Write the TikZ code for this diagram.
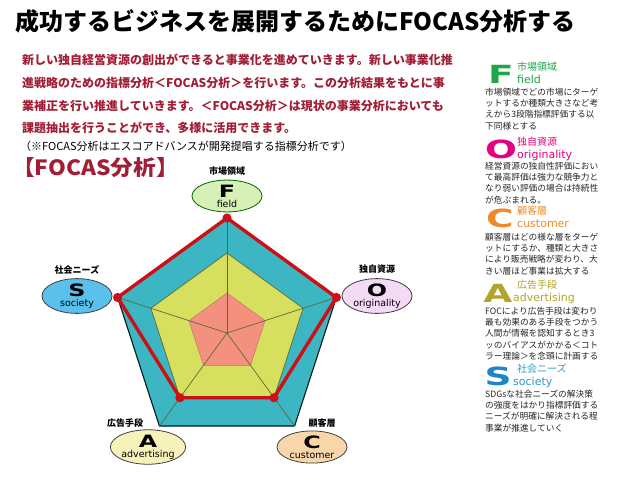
\documentclass[tikz,border=0pt]{standalone}
\usepackage{fontspec}
\usepackage{graphicx}
\setmainfont{DejaVu Sans}
\newfontfamily\jp{Noto Sans CJK JP}
\newfontfamily\dv{DejaVu Sans}
\usetikzlibrary{calc,shapes.geometric}
\definecolor{parared}{HTML}{A21E36}
\definecolor{tealc}{HTML}{3CB6C2}
\definecolor{yelc}{HTML}{D6DF5E}
\definecolor{salc}{HTML}{F4907E}
\definecolor{redl}{HTML}{CC1016}
\definecolor{spokec}{HTML}{5B6A3A}
\definecolor{fgreen}{HTML}{1FA64A}
\definecolor{omag}{HTML}{E5007E}
\definecolor{corange}{HTML}{F08A2A}
\definecolor{aolive}{HTML}{B3A52C}
\definecolor{sblue}{HTML}{1C86C6}
\definecolor{stext}{HTML}{2C9AC8}
\definecolor{ellF}{RGB}{214,240,182}
\definecolor{ellO}{RGB}{244,218,244}
\definecolor{ellS}{RGB}{92,192,236}
\definecolor{ellA}{RGB}{247,242,186}
\definecolor{ellC}{RGB}{248,214,170}
\begin{document}
\begin{tikzpicture}[x=1pt,y=-1pt,
  para/.style={anchor=west,inner sep=0pt,text=parared,font=\jp\bfseries\fontsize{12}{12}\selectfont},
  desc/.style={anchor=north west,inner sep=0pt,align=left,text=black!85,font=\jp\fontsize{8.7}{11.2}\selectfont},
  bigl/.style={inner sep=0pt,font=\dv\bfseries\fontsize{25}{25}\selectfont},
  jlab/.style={anchor=west,inner sep=0pt,text height=7.5pt,text depth=1pt,font=\jp\fontsize{10}{10}\selectfont},
  elab/.style={anchor=west,inner sep=0pt,text height=7.5pt,text depth=1.5pt,font=\dv\fontsize{11}{11}\selectfont},
  clab/.style={inner sep=0pt,font=\jp\bfseries\fontsize{9}{9}\selectfont},
  axis/.style={ellipse,draw=black!75,line width=0.8pt,minimum width=70pt,minimum height=31pt,inner sep=0pt,align=center},
  redline/.style={draw=redl,line width=3.4pt,line join=round},
  dot/.style={fill=redl},
  spoke/.style={draw=spokec,line width=0.7pt}
]
\useasboundingbox (0,0) rectangle (624,482);
\fill[white] (0,0) rectangle (624,482);

% title
\node[anchor=west,inner sep=0pt,font=\jp\bfseries\fontsize{24}{24}\selectfont] (title) at (15,21) {成功するビジネスを展開するためにFOCAS分析する};

% paragraph
\node[para] (l1) at (22,60) {新しい独自経営資源の創出ができると事業化を進めていきます。新しい事業化推};
\node[para] (l2) at (22,83) {進戦略のための指標分析＜FOCAS分析＞を行います。この分析結果をもとに事};
\node[para] (l3) at (22,106) {業補正を行い推進していきます。＜FOCAS分析＞は現状の事業分析においても};
\node[para] (l4) at (22,128) {課題抽出を行うことができ、多様に活用できます。};
\node[anchor=west,inner sep=0pt,font=\jp\fontsize{11}{11}\selectfont] (note) at (20,146) {（※FOCAS分析はエスコアドバンスが開発提唱する指標分析です）};
\node[anchor=west,inner sep=0pt,text=parared,font=\jp\bfseries\fontsize{21}{21}\selectfont] (head) at (12,168) {\scalebox{1.08}[1]{【FOCAS分析】}};

% chart
\begin{scope}[shift={(227,333)}]
  \coordinate (ctr) at (0,0);
  \foreach \i/\a in {1/-90,2/-18,3/54,4/126,5/198}{
    \coordinate (p\i) at (\a:115);
    \coordinate (m\i) at (\a:80);
    \coordinate (q\i) at (\a:40);
  }
\end{scope}
\filldraw[fill=tealc,draw=black!80!teal,line width=1.1pt,line join=round] (p1)--(p2)--(p3)--(p4)--(p5)--cycle;
\filldraw[fill=yelc,draw=spokec,line width=0.7pt] (m1)--(m2)--(m3)--(m4)--(m5)--cycle;
\filldraw[fill=salc,draw=salc!80!black,line width=0.5pt] (q1)--(q2)--(q3)--(q4)--(q5)--cycle;
\foreach \i in {1,...,5}{\draw[spoke] (ctr)--(p\i);}
\draw[redline] (p1)--(p2)--(m3)--(m4)--(p5)--cycle;
\foreach \v in {p1,p2,m3,m4,p5}{\fill[dot] (\v) circle (4.6pt);}

% axis labels
\node[axis,fill=ellF,draw=green!40!black] (F) at (227,196)
  {\dv\bfseries\fontsize{17}{13}\selectfont\scalebox{1.4}[1]{F}\\[-2pt]\dv\fontsize{9.5}{9.5}\selectfont field};
\node[clab] (Ft) at (227,171) {市場領域};
\node[axis,fill=ellO] (O) at (377,296)
  {\dv\bfseries\fontsize{17}{13}\selectfont\scalebox{1.4}[1]{O}\\[-2pt]\dv\fontsize{9.5}{9.5}\selectfont originality};
\node[clab] (Ot) at (377,269) {独自資源};
\node[axis,fill=ellS] (S) at (77,296)
  {\dv\bfseries\fontsize{17}{13}\selectfont\scalebox{1.4}[1]{S}\\[-2pt]\dv\fontsize{9.5}{9.5}\selectfont society};
\node[clab] (St) at (77,270) {社会ニーズ};
\node[axis,fill=ellA] (A) at (148,447)
  {\dv\bfseries\fontsize{17}{13}\selectfont\scalebox{1.4}[1]{A}\\[-2pt]\dv\fontsize{9.5}{9.5}\selectfont advertising};
\node[clab] (At) at (125,423) {広告手段};
\node[axis,fill=ellC] (C) at (312,447)
  {\dv\bfseries\fontsize{17}{13}\selectfont\scalebox{1.4}[1]{C}\\[-2pt]\dv\fontsize{9.5}{9.5}\selectfont customer};
\node[clab] (Ct) at (322,423) {顧客層};

% right column
\node[bigl,text=fgreen] (rF) at (501,74) {\scalebox{1.5}[1]{F}};
\node[jlab,text=fgreen] (rFj) at (517,67) {市場領域};
\node[elab,text=fgreen] (rFe) at (517,80) {field};
\node[desc] (dF) at (485,88) {市場領域でどの市場にターゲ\\ットするか種類大きさなど考\\えから3段階指標評価する以\\下同様とする};

\node[bigl,text=omag] (rO) at (501,149) {\scalebox{1.5}[1]{O}};
\node[jlab,text=omag] (rOj) at (517,142) {独自資源};
\node[elab,text=omag] (rOe) at (517,155) {originality};
\node[desc] (dO) at (485,162) {経営資源の独自性評価におい\\て最高評価は強力な競争力と\\なり弱い評価の場合は持続性\\が危ぶまれる。};

\node[bigl,text=corange] (rC) at (500,218) {\scalebox{1.5}[1]{C}};
\node[jlab,text=corange] (rCj) at (517,211) {顧客層};
\node[elab,text=corange] (rCe) at (517,224) {customer};
\node[desc] (dC) at (485,233) {顧客層はどの様な層をターゲ\\ットにするか、種類と大きさ\\により販売戦略が変わり、大\\きい層ほど事業は拡大する};

\node[bigl,text=aolive] (rA) at (498,293) {\scalebox{1.5}[1]{A}};
\node[jlab,text=aolive] (rAj) at (517,285) {広告手段};
\node[elab,text=aolive] (rAe) at (513,298) {advertising};
\node[desc] (dA) at (485,307) {FOCにより広告手段は変わり\\最も効果のある手段をつかう\\人間が情報を認知するとき3\\ッのバイアスがかかる＜コト\\ラー理論＞を念頭に計画する};

\node[bigl,text=sblue] (rS) at (498,376) {\scalebox{1.5}[1]{S}};
\node[jlab,text=stext] (rSj) at (517,369) {社会ニーズ};
\node[elab,text=stext] (rSe) at (513,382) {society};
\node[desc] (dS) at (485,390) {SDGsな社会ニーズの解決策\\の強度をはかり指標評価する\\ニーズが明確に解決される程\\事業が推進していく};
\end{tikzpicture}
\end{document}
